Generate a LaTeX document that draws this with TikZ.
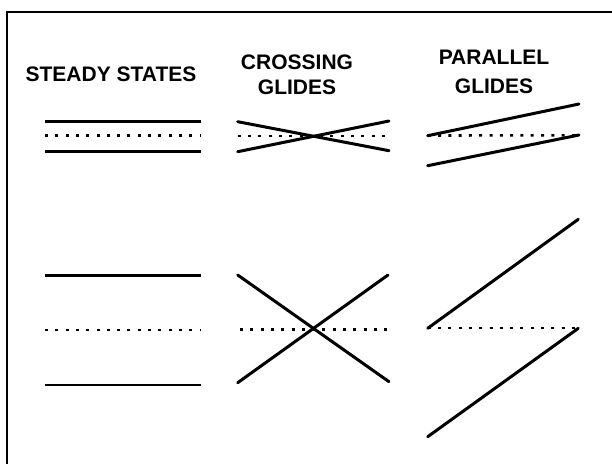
\documentclass[tikz,border=0pt]{standalone}
\usepackage{fontspec}
\setmainfont{Liberation Sans}
\begin{document}
\begin{tikzpicture}[x=1pt,y=-1pt,
  frame/.style={line width=1.8pt},
  glide/.style={line width=3pt,line cap=round},
  steadyline/.style={line width=2.5pt},
  plane/.style={line width=2.6pt,dash pattern=on 3pt off 7.3pt},
  title/.style={font=\bfseries\fontsize{21}{25}\selectfont,anchor=base,inner sep=0pt}]
\useasboundingbox (0,0) rectangle (612,464);
% frame
\coordinate (fb) at (7,464);
\coordinate (fc) at (7,12);
\coordinate (fr) at (612,12);
\draw[frame] (fb) -- (fc) -- (fr);
% titles
\node[title] (tsteady) at (111,81) {STEADY STATES};
\node[title] (tcross1) at (297,69) {CROSSING};
\node[title] (tcross2) at (297,94) {GLIDES};
\node[title] (tpar1) at (494,64) {PARALLEL};
\node[title] (tpar2) at (494,93) {GLIDES};
% ---- top row ----
% steady states
\coordinate (s1a) at (45,121.7);  \coordinate (s1b) at (200.7,121.7);
\coordinate (s1c) at (45,135.7);  \coordinate (s1d) at (200.7,135.7);
\coordinate (s1e) at (45,151.7);  \coordinate (s1f) at (200.7,151.7);
\draw[steadyline] (s1a) -- (s1b);
\draw[plane] (s1c) -- (s1d);
\draw[steadyline] (s1e) -- (s1f);
% crossing glides
\coordinate (c1a) at (237.7,121.7); \coordinate (c1b) at (389,150.7);
\coordinate (c1c) at (237.7,151.7); \coordinate (c1d) at (389,121);
\coordinate (c1e) at (237.7,136);   \coordinate (c1f) at (385,136);
\draw[plane] (c1e) -- (c1f);
\draw[glide] (c1a) -- (c1b);
\draw[glide] (c1c) -- (c1d);
% parallel glides
\coordinate (p1a) at (427.7,135.7); \coordinate (p1b) at (579,104);
\coordinate (p1c) at (427.7,165.7); \coordinate (p1d) at (579,135);
\coordinate (p1e) at (427.7,135.5); \coordinate (p1f) at (579,135.3);
\draw[plane] (p1e) -- (p1f);
\draw[glide] (p1a) -- (p1b);
\draw[glide] (p1c) -- (p1d);
% ---- bottom row ----
% steady states
\coordinate (s2a) at (45,275.7);  \coordinate (s2b) at (200.7,275.7);
\coordinate (s2c) at (45,330);    \coordinate (s2d) at (200.7,330);
\coordinate (s2e) at (45,385);    \coordinate (s2f) at (200.7,385);
\draw[steadyline] (s2a) -- (s2b);
\draw[plane] (s2c) -- (s2d);
\draw[steadyline] (s2e) -- (s2f);
% crossing glides
\coordinate (c2a) at (237.7,275);   \coordinate (c2b) at (389,381.7);
\coordinate (c2c) at (237.7,382.7); \coordinate (c2d) at (388,275);
\coordinate (c2e) at (240,329.3);   \coordinate (c2f) at (388,329.3);
\draw[plane] (c2e) -- (c2f);
\draw[glide] (c2a) -- (c2b);
\draw[glide] (c2c) -- (c2d);
% parallel glides
\coordinate (p2a) at (427.7,328.3); \coordinate (p2b) at (578.3,219.3);
\coordinate (p2c) at (427.7,436.7); \coordinate (p2d) at (578.3,328.3);
\coordinate (p2e) at (427.7,327.8); \coordinate (p2f) at (578.3,327.8);
\draw[plane] (p2e) -- (p2f);
\draw[glide] (p2a) -- (p2b);
\draw[glide] (p2c) -- (p2d);
\end{tikzpicture}
\end{document}
